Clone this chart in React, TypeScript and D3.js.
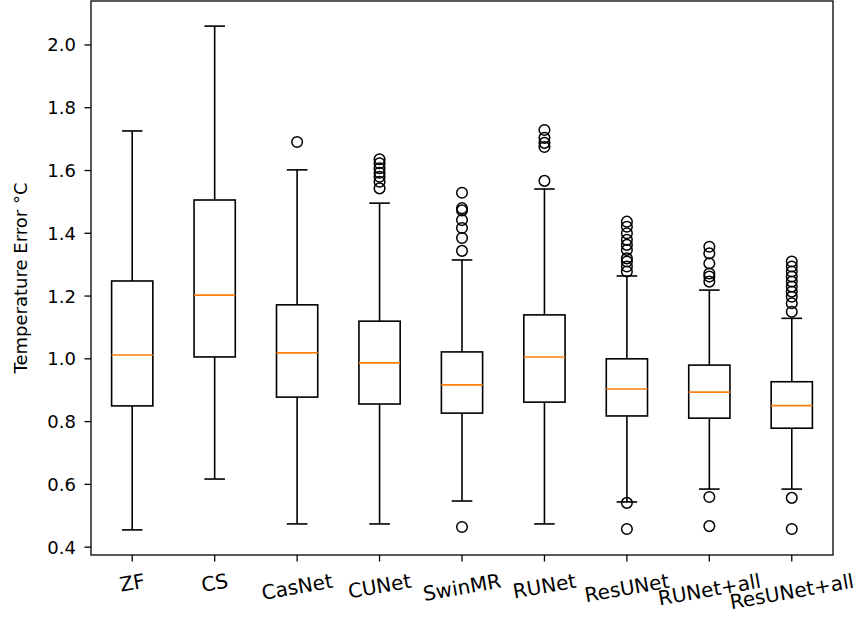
import React, { useEffect, useRef } from "react";
import * as d3 from "d3";

const categories = ["ZF", "CS", "CasNet", "CUNet", "SwinMR", "RUNet", "ResUNet", "RUNet+all", "ResUNet+all"];
const whiskerLow = [0.455, 0.617, 0.474, 0.474, 0.547, 0.474, 0.544, 0.585, 0.585];
const q1 = [0.85, 1.006, 0.878, 0.856, 0.827, 0.862, 0.818, 0.811, 0.779];
const medians = [1.012, 1.203, 1.019, 0.987, 0.917, 1.006, 0.904, 0.894, 0.851];
const q3 = [1.248, 1.506, 1.172, 1.12, 1.022, 1.14, 1.0, 0.98, 0.927];
const whiskerHigh = [1.726, 2.06, 1.602, 1.496, 1.315, 1.541, 1.264, 1.219, 1.129];
const outliers: number[][] = [
  [],
  [],
  [1.691],
  [1.636, 1.623, 1.607, 1.593, 1.58, 1.564, 1.543],
  [1.529, 1.48, 1.473, 1.442, 1.417, 1.385, 1.344, 0.464],
  [1.729, 1.704, 1.688, 1.675, 1.567],
  [1.437, 1.421, 1.4, 1.379, 1.363, 1.347, 1.32, 1.31, 1.294, 1.278, 0.541, 0.458],
  [1.357, 1.336, 1.304, 1.272, 1.262, 1.246, 0.56, 0.467],
  [1.31, 1.294, 1.278, 1.262, 1.246, 1.23, 1.214, 1.198, 1.177, 1.15, 0.557, 0.458],
];
const yTicks = [0.4, 0.6, 0.8, 1.0, 1.2, 1.4, 1.6, 1.8, 2.0];
const yLabel = "Temperature Error °C";

const W = 858;
const H = 620;
const plot = { left: 91, right: 833, top: 1, bottom: 555 };
const FONT = "DejaVu Sans, sans-serif";
const FS = 18;
const XFS = 20;

export default function App() {
  const ref = useRef<SVGSVGElement | null>(null);

  useEffect(() => {
    const svg = d3.select(ref.current);
    svg.selectAll("*").remove();

    const x = d3.scaleLinear().domain([0.5, categories.length + 0.5]).range([plot.left, plot.right]);
    const y = d3.scaleLinear().domain([0.375, 2.14]).range([plot.bottom, plot.top]);
    const unit = x(1) - x(0);
    const boxW = unit * 0.5;
    const capW = unit * 0.25;
    const lw = 1.6;

    const g = svg.append("g");

    categories.forEach((c, i) => {
      const cx = x(i + 1);
      g.append("line").attr("x1", cx).attr("x2", cx).attr("y1", y(q3[i])).attr("y2", y(whiskerHigh[i]))
        .attr("stroke", "#000").attr("stroke-width", lw);
      g.append("line").attr("x1", cx).attr("x2", cx).attr("y1", y(q1[i])).attr("y2", y(whiskerLow[i]))
        .attr("stroke", "#000").attr("stroke-width", lw);
      [whiskerHigh[i], whiskerLow[i]].forEach((v) => {
        g.append("line").attr("x1", cx - capW / 2).attr("x2", cx + capW / 2).attr("y1", y(v)).attr("y2", y(v))
          .attr("stroke", "#000").attr("stroke-width", lw);
      });
      g.append("rect").attr("x", cx - boxW / 2).attr("width", boxW)
        .attr("y", y(q3[i])).attr("height", y(q1[i]) - y(q3[i]))
        .attr("fill", "none").attr("stroke", "#000").attr("stroke-width", lw);
      g.append("line").attr("x1", cx - boxW / 2).attr("x2", cx + boxW / 2).attr("y1", y(medians[i])).attr("y2", y(medians[i]))
        .attr("stroke", "#ff7f0e").attr("stroke-width", lw);
      outliers[i].forEach((v) => {
        g.append("circle").attr("cx", cx).attr("cy", y(v)).attr("r", 5.3)
          .attr("fill", "none").attr("stroke", "#000").attr("stroke-width", 1.5);
      });
    });

    svg.append("rect").attr("x", plot.left).attr("y", plot.top)
      .attr("width", plot.right - plot.left).attr("height", plot.bottom - plot.top)
      .attr("fill", "none").attr("stroke", "#000").attr("stroke-width", 1.3);

    yTicks.forEach((t) => {
      const yy = y(t);
      svg.append("line").attr("x1", plot.left - 6.5).attr("x2", plot.left).attr("y1", yy).attr("y2", yy)
        .attr("stroke", "#000").attr("stroke-width", 1.3);
      svg.append("text").attr("x", plot.left - 15).attr("y", yy)
        .attr("text-anchor", "end").attr("dominant-baseline", "central")
        .attr("font-family", FONT).attr("font-size", FS).attr("fill", "#000")
        .text(d3.format(".1f")(t));
    });

    const ang = (10 * Math.PI) / 180;
    categories.forEach((c, i) => {
      const cx = x(i + 1);
      svg.append("line").attr("x1", cx).attr("x2", cx).attr("y1", plot.bottom).attr("y2", plot.bottom + 6.5)
        .attr("stroke", "#000").attr("stroke-width", 1.3);
      const t = svg.append("text")
        .attr("text-anchor", "middle").attr("dominant-baseline", "central")
        .attr("font-family", FONT).attr("font-size", XFS).attr("fill", "#000")
        .text(c);
      const node = t.node() as SVGTextElement;
      const w = node.getComputedTextLength();
      const h = XFS * 1.17;
      const bh = w * Math.sin(ang) + h * Math.cos(ang);
      const top = plot.bottom + 14;
      t.attr("transform", `translate(${cx},${top + bh / 2}) rotate(-10)`);
    });

    svg.append("text")
      .attr("transform", `translate(20,${(plot.top + plot.bottom) / 2}) rotate(-90)`)
      .attr("text-anchor", "middle").attr("dominant-baseline", "central")
      .attr("font-family", FONT).attr("font-size", FS).attr("fill", "#000")
      .text(yLabel);
  }, []);

  return (
    <svg ref={ref} width={W} height={H} style={{ position: "absolute", left: 0, top: 0, background: "#fff" }} />
  );
}
